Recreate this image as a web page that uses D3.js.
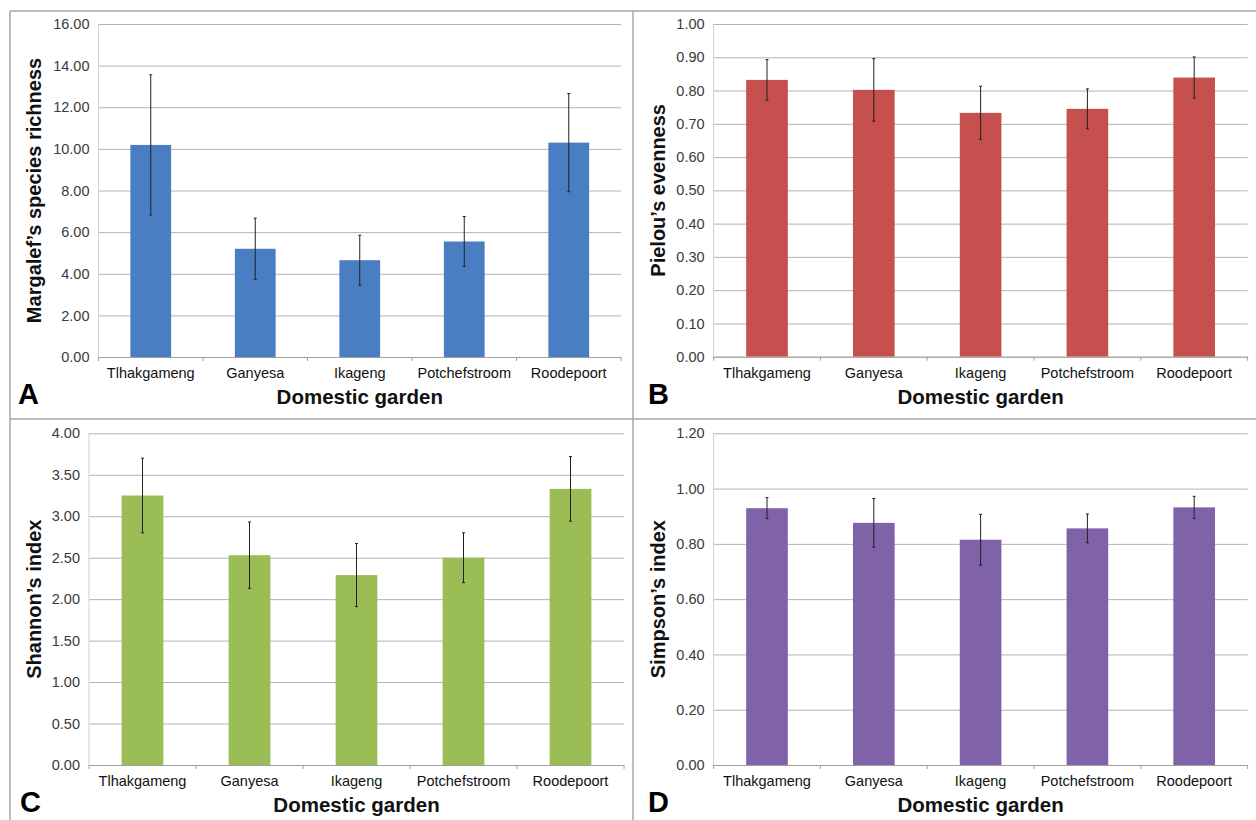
<!DOCTYPE html>
<html>
<head>
<meta charset="utf-8">
<script src="https://cdn.jsdelivr.net/npm/d3@7"></script>
<style>
  body { margin: 0; background: #fff; }
  svg { display: block; font-family: "Liberation Sans", Arial, sans-serif; }
</style>
</head>
<body>
<svg id="chart" width="1256" height="820"></svg>
<script>
// data
const gardens = ["Tlhakgameng", "Ganyesa", "Ikageng", "Potchefstroom", "Roodepoort"];

const margalef = [10.19, 5.2, 4.65, 5.55, 10.3];
const margalefErr = [3.37, 1.47, 1.2, 1.2, 2.36];
const margalefTicks = [0, 2, 4, 6, 8, 10, 12, 14, 16];

const pielou = [0.832, 0.802, 0.733, 0.745, 0.839];
const pielouErr = [0.061, 0.094, 0.08, 0.06, 0.062];
const pielouTicks = [0, 0.1, 0.2, 0.3, 0.4, 0.5, 0.6, 0.7, 0.8, 0.9, 1.0];

const shannon = [3.25, 2.53, 2.29, 2.5, 3.33];
const shannonErr = [0.45, 0.4, 0.38, 0.3, 0.39];
const shannonTicks = [0, 0.5, 1, 1.5, 2, 2.5, 3, 3.5, 4];

const simpson = [0.929, 0.876, 0.815, 0.856, 0.932];
const simpsonErr = [0.038, 0.088, 0.092, 0.052, 0.04];
const simpsonTicks = [0, 0.2, 0.4, 0.6, 0.8, 1.0, 1.2];

const svg = d3.select("#chart");
const fmt = d3.format(".2f");

// panel frame lines
const frame = svg.append("g").attr("stroke", "#a6a6a6").attr("stroke-width", 1.5);
frame.append("line").attr("x1", 10).attr("y1", 11).attr("x2", 1256).attr("y2", 11);
frame.append("line").attr("x1", 10).attr("y1", 11).attr("x2", 10).attr("y2", 820);
frame.append("line").attr("x1", 633).attr("y1", 11).attr("x2", 633).attr("y2", 820);
frame.append("line").attr("x1", 10).attr("y1", 419).attr("x2", 1256).attr("y2", 419);

function panel(opt) {
    const g = svg.append("g");
    const x = d3.scaleBand()
        .domain(gardens)
        .range([opt.left, opt.right])
        .paddingInner(0.61)
        .paddingOuter(0.305);
    const y = d3.scaleLinear()
        .domain([0, opt.ticks[opt.ticks.length - 1]])
        .range([opt.bottom, opt.top]);

    // gridlines + y labels
    const yAxis = g.append("g")
        .attr("transform", `translate(${opt.left},0)`)
        .call(d3.axisLeft(y)
            .tickValues(opt.ticks)
            .tickFormat(fmt)
            .tickSize(-(opt.right - opt.left))
            .tickPadding(9));
    yAxis.select(".domain").remove();
    yAxis.selectAll(".tick line").attr("stroke", "#b3b3b3");
    yAxis.selectAll(".tick text")
        .attr("fill", "#3a3a3a")
        .style("font-size", "14.5px")
        .style("font-family", "Liberation Sans, Arial, sans-serif");

    g.append("line")
        .attr("x1", opt.left).attr("x2", opt.left)
        .attr("y1", opt.top).attr("y2", opt.bottom)
        .attr("stroke", "#d0d0d0");

    // bars
    g.selectAll(".bar")
        .data(opt.values)
        .join("rect")
        .attr("x", (d, i) => x(gardens[i]))
        .attr("y", d => y(d))
        .attr("width", x.bandwidth())
        .attr("height", d => y(0) - y(d))
        .attr("fill", opt.color);

    // error bars
    g.selectAll(".err")
        .data(opt.values)
        .join("line")
        .attr("x1", (d, i) => x(gardens[i]) + x.bandwidth() / 2)
        .attr("x2", (d, i) => x(gardens[i]) + x.bandwidth() / 2)
        .attr("y1", (d, i) => y(d + opt.err[i]))
        .attr("y2", (d, i) => y(d - opt.err[i]))
        .attr("stroke", "#222")
        .attr("stroke-width", 1);
    g.selectAll(".cap")
        .data(opt.values.flatMap((d, i) => [[i, d + opt.err[i]], [i, d - opt.err[i]]]))
        .join("line")
        .attr("x1", d => x(gardens[d[0]]) + x.bandwidth() / 2 - 1.5)
        .attr("x2", d => x(gardens[d[0]]) + x.bandwidth() / 2 + 1.5)
        .attr("y1", d => y(d[1]))
        .attr("y2", d => y(d[1]))
        .attr("stroke", "#222");

    // x axis
    const xAxis = g.append("g")
        .attr("transform", `translate(0,${opt.bottom})`)
        .call(d3.axisBottom(x).tickSize(0).tickPadding(11).tickSizeOuter(0));
    xAxis.select(".domain").attr("stroke", "#a0a0a0");
    xAxis.selectAll(".tick text")
        .attr("fill", "#111")
        .style("font-size", "14.5px")
        .style("font-family", "Liberation Sans, Arial, sans-serif");
    g.selectAll(".xtick")
        .data(d3.range(gardens.length + 1))
        .join("line")
        .attr("x1", i => opt.left + i * x.step())
        .attr("x2", i => opt.left + i * x.step())
        .attr("y1", opt.bottom)
        .attr("y2", opt.bottom + 4)
        .attr("stroke", "#a0a0a0");

    // titles
    g.append("text")
        .attr("x", (opt.left + opt.right) / 2)
        .attr("y", opt.bottom + 47)
        .attr("text-anchor", "middle")
        .attr("font-weight", "bold")
        .attr("font-size", 20.5)
        .attr("fill", "#111")
        .text("Domestic garden");
    g.append("text")
        .attr("transform", `translate(${opt.ytitleX},${(opt.top + opt.bottom) / 2}) rotate(-90)`)
        .attr("text-anchor", "middle")
        .attr("font-weight", "bold")
        .attr("font-size", 20)
        .attr("fill", "#111")
        .text(opt.ytitle);
    g.append("text")
        .attr("x", opt.letterX)
        .attr("y", opt.bottom + 47)
        .attr("font-weight", "bold")
        .attr("font-size", 29)
        .attr("fill", "#000")
        .text(opt.letter);
}

panel({ left: 98.5, right: 621, top: 24, bottom: 357, ticks: margalefTicks,
    values: margalef, err: margalefErr, color: "#4a7ec2",
    ytitle: "Margalef\u2019s species richness", ytitleX: 41, letter: "A", letterX: 18 });
panel({ left: 713.6, right: 1247.6, top: 24, bottom: 356.7, ticks: pielouTicks,
    values: pielou, err: pielouErr, color: "#c5504d",
    ytitle: "Pielou\u2019s evenness", ytitleX: 665, letter: "B", letterX: 648 });
panel({ left: 89, right: 624, top: 433.3, bottom: 765, ticks: shannonTicks,
    values: shannon, err: shannonErr, color: "#9abd56",
    ytitle: "Shannon\u2019s index", ytitleX: 41, letter: "C", letterX: 20 });
panel({ left: 713.6, right: 1247.6, top: 433.3, bottom: 765, ticks: simpsonTicks,
    values: simpson, err: simpsonErr, color: "#7f62a8",
    ytitle: "Simpson\u2019s index", ytitleX: 665, letter: "D", letterX: 648 });
</script>
</body>
</html>
